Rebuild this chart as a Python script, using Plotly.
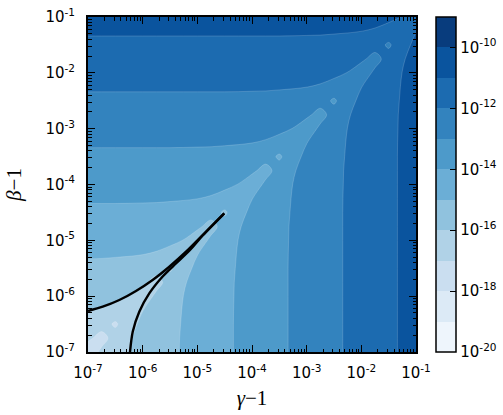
import plotly.graph_objects as go

# grid positions (gamma-1 along x, beta-1 along y), quarter-decade spacing
gamma_grid = [1.000e-7, 1.778e-7, 3.162e-7, 5.623e-7, 1.000e-6, 1.778e-6, 3.162e-6, 5.623e-6,
              1.000e-5, 1.778e-5, 3.162e-5, 5.623e-5, 1.000e-4, 1.778e-4, 3.162e-4, 5.623e-4,
              1.000e-3, 1.778e-3, 3.162e-3, 5.623e-3, 1.000e-2, 1.778e-2, 3.162e-2, 5.623e-2,
              1.000e-1]
beta_grid = [1.000e-7, 1.778e-7, 3.162e-7, 5.623e-7, 1.000e-6, 1.778e-6, 3.162e-6, 5.623e-6,
             1.000e-5, 1.778e-5, 3.162e-5, 5.623e-5, 1.000e-4, 1.778e-4, 3.162e-4, 5.623e-4,
             1.000e-3, 1.778e-3, 3.162e-3, 5.623e-3, 1.000e-2, 1.778e-2, 3.162e-2, 5.623e-2,
             1.000e-1]

# log10 of the plotted quantity (rows: beta, cols: gamma)
log_z = [
    [-17.66, -16.77, -16.32, -15.99, -15.71, -15.44, -15.17, -14.92, -14.66, -14.41, -14.16, -13.91, -13.66, -13.41, -13.16, -12.91, -12.66, -12.41, -12.16, -11.91, -11.66, -11.41, -11.16, -10.91, -10.66],
    [-16.77, -17.41, -16.52, -16.07, -15.74, -15.46, -15.19, -14.92, -14.67, -14.41, -14.16, -13.91, -13.66, -13.41, -13.16, -12.91, -12.66, -12.41, -12.16, -11.91, -11.66, -11.41, -11.16, -10.91, -10.66],
    [-16.32, -16.52, -17.16, -16.27, -15.82, -15.49, -15.21, -14.94, -14.67, -14.42, -14.16, -13.91, -13.66, -13.41, -13.16, -12.91, -12.66, -12.41, -12.16, -11.91, -11.66, -11.41, -11.16, -10.91, -10.66],
    [-15.99, -16.07, -16.27, -16.91, -16.02, -15.57, -15.24, -14.96, -14.69, -14.42, -14.17, -13.91, -13.66, -13.41, -13.16, -12.91, -12.66, -12.41, -12.16, -11.91, -11.66, -11.41, -11.16, -10.91, -10.66],
    [-15.71, -15.74, -15.82, -16.02, -16.66, -15.77, -15.32, -14.99, -14.71, -14.44, -14.17, -13.92, -13.66, -13.41, -13.16, -12.91, -12.66, -12.41, -12.16, -11.91, -11.66, -11.41, -11.16, -10.91, -10.66],
    [-15.44, -15.46, -15.49, -15.57, -15.77, -16.41, -15.52, -15.07, -14.74, -14.46, -14.19, -13.92, -13.67, -13.41, -13.16, -12.91, -12.66, -12.41, -12.16, -11.91, -11.66, -11.41, -11.16, -10.91, -10.66],
    [-15.17, -15.19, -15.21, -15.24, -15.32, -15.52, -16.16, -15.27, -14.82, -14.49, -14.21, -13.94, -13.67, -13.42, -13.16, -12.91, -12.66, -12.41, -12.16, -11.91, -11.66, -11.41, -11.16, -10.91, -10.66],
    [-14.92, -14.92, -14.94, -14.96, -14.99, -15.07, -15.27, -15.91, -15.02, -14.57, -14.24, -13.96, -13.69, -13.42, -13.17, -12.91, -12.66, -12.41, -12.16, -11.91, -11.66, -11.41, -11.16, -10.91, -10.66],
    [-14.66, -14.67, -14.67, -14.69, -14.71, -14.74, -14.82, -15.02, -15.66, -14.77, -14.32, -13.99, -13.71, -13.44, -13.17, -12.92, -12.66, -12.41, -12.16, -11.91, -11.66, -11.41, -11.16, -10.91, -10.66],
    [-14.41, -14.41, -14.42, -14.42, -14.44, -14.46, -14.49, -14.57, -14.77, -15.41, -14.52, -14.07, -13.74, -13.46, -13.19, -12.92, -12.67, -12.41, -12.16, -11.91, -11.66, -11.41, -11.16, -10.91, -10.66],
    [-14.16, -14.16, -14.16, -14.17, -14.17, -14.19, -14.21, -14.24, -14.32, -14.52, -15.16, -14.27, -13.82, -13.49, -13.21, -12.94, -12.67, -12.42, -12.16, -11.91, -11.66, -11.41, -11.16, -10.91, -10.66],
    [-13.91, -13.91, -13.91, -13.91, -13.92, -13.92, -13.94, -13.96, -13.99, -14.07, -14.27, -14.91, -14.02, -13.57, -13.24, -12.96, -12.69, -12.42, -12.17, -11.91, -11.66, -11.41, -11.16, -10.91, -10.66],
    [-13.66, -13.66, -13.66, -13.66, -13.66, -13.67, -13.67, -13.69, -13.71, -13.74, -13.82, -14.02, -14.66, -13.77, -13.32, -12.99, -12.71, -12.44, -12.17, -11.92, -11.66, -11.41, -11.16, -10.91, -10.66],
    [-13.41, -13.41, -13.41, -13.41, -13.41, -13.41, -13.42, -13.42, -13.44, -13.46, -13.49, -13.57, -13.77, -14.41, -13.52, -13.07, -12.74, -12.46, -12.19, -11.92, -11.67, -11.41, -11.16, -10.91, -10.66],
    [-13.16, -13.16, -13.16, -13.16, -13.16, -13.16, -13.16, -13.17, -13.17, -13.19, -13.21, -13.24, -13.32, -13.52, -14.16, -13.27, -12.82, -12.49, -12.21, -11.94, -11.67, -11.42, -11.16, -10.91, -10.66],
    [-12.91, -12.91, -12.91, -12.91, -12.91, -12.91, -12.91, -12.91, -12.92, -12.92, -12.94, -12.96, -12.99, -13.07, -13.27, -13.91, -13.02, -12.57, -12.24, -11.96, -11.69, -11.42, -11.17, -10.91, -10.66],
    [-12.66, -12.66, -12.66, -12.66, -12.66, -12.66, -12.66, -12.66, -12.66, -12.67, -12.67, -12.69, -12.71, -12.74, -12.82, -13.02, -13.66, -12.77, -12.32, -11.99, -11.71, -11.44, -11.17, -10.92, -10.66],
    [-12.41, -12.41, -12.41, -12.41, -12.41, -12.41, -12.41, -12.41, -12.41, -12.41, -12.42, -12.42, -12.44, -12.46, -12.49, -12.57, -12.77, -13.41, -12.52, -12.07, -11.74, -11.46, -11.19, -10.92, -10.67],
    [-12.16, -12.16, -12.16, -12.16, -12.16, -12.16, -12.16, -12.16, -12.16, -12.16, -12.16, -12.17, -12.17, -12.19, -12.21, -12.24, -12.32, -12.52, -13.16, -12.27, -11.82, -11.49, -11.21, -10.94, -10.67],
    [-11.91, -11.91, -11.91, -11.91, -11.91, -11.91, -11.91, -11.91, -11.91, -11.91, -11.91, -11.91, -11.92, -11.92, -11.94, -11.96, -11.99, -12.07, -12.27, -12.91, -12.02, -11.57, -11.24, -10.96, -10.69],
    [-11.66, -11.66, -11.66, -11.66, -11.66, -11.66, -11.66, -11.66, -11.66, -11.66, -11.66, -11.66, -11.66, -11.67, -11.67, -11.69, -11.71, -11.74, -11.82, -12.02, -12.66, -11.77, -11.32, -10.99, -10.71],
    [-11.41, -11.41, -11.41, -11.41, -11.41, -11.41, -11.41, -11.41, -11.41, -11.41, -11.41, -11.41, -11.41, -11.41, -11.42, -11.42, -11.44, -11.46, -11.49, -11.57, -11.77, -12.41, -11.52, -11.07, -10.74],
    [-11.16, -11.16, -11.16, -11.16, -11.16, -11.16, -11.16, -11.16, -11.16, -11.16, -11.16, -11.16, -11.16, -11.16, -11.16, -11.17, -11.17, -11.19, -11.21, -11.24, -11.32, -11.52, -12.16, -11.27, -10.82],
    [-10.91, -10.91, -10.91, -10.91, -10.91, -10.91, -10.91, -10.91, -10.91, -10.91, -10.91, -10.91, -10.91, -10.91, -10.91, -10.91, -10.92, -10.92, -10.94, -10.96, -10.99, -11.07, -11.27, -11.91, -11.02],
    [-10.66, -10.66, -10.66, -10.66, -10.66, -10.66, -10.66, -10.66, -10.66, -10.66, -10.66, -10.66, -10.66, -10.66, -10.66, -10.66, -10.66, -10.67, -10.67, -10.69, -10.71, -10.74, -10.82, -11.02, -11.66],
]

# contour levels (log10) and band colours (bottom band first)
level_start, level_end, level_step = -20, -9, 1
band_colors = ["#eef5fc", "#dceaf6", "#cadef0", "#b0d2e7", "#90c2de", "#6baed6",
               "#4d9aca", "#3383be", "#1c6bb0", "#0a549e", "#083c7d"]

# two black curves
curve_a_x = [1.0e-7, 1.86e-7, 3.74e-7, 7.55e-7, 1.52e-6, 3.07e-6, 6.21e-6, 1.25e-5, 3.11e-5]
curve_a_y = [5.42e-7, 6.47e-7, 8.53e-7, 1.24e-6, 1.95e-6, 3.37e-6, 6.25e-6, 1.24e-5, 3.05e-5]
curve_b_x = [5.86e-7, 6.58e-7, 8.67e-7, 1.32e-6, 2.32e-6, 4.07e-6, 7.35e-6, 1.25e-5, 3.11e-5]
curve_b_y = [1.0e-7, 2.31e-7, 5.26e-7, 1.12e-6, 2.25e-6, 3.85e-6, 6.71e-6, 1.22e-5, 3.05e-5]

x_ticks = [1e-7, 1e-6, 1e-5, 1e-4, 1e-3, 1e-2, 1e-1]
x_labels = ["10<sup>-7</sup>", "10<sup>-6</sup>", "10<sup>-5</sup>", "10<sup>-4</sup>",
            "10<sup>-3</sup>", "10<sup>-2</sup>", "10<sup>-1</sup>"]
y_ticks = x_ticks
y_labels = x_labels
cbar_ticks = [-20, -18, -16, -14, -12, -10]
cbar_labels = ["10<sup>-20</sup>", "10<sup>-18</sup>", "10<sup>-16</sup>",
               "10<sup>-14</sup>", "10<sup>-12</sup>", "10<sup>-10</sup>"]

n_bands = len(band_colors)

# contour fill colour map: plotly evaluates each band at its midpoint,
# domain spans start-step/2 .. end+step/2 (n_bands + 1 slots)
fill_scale = [[0.0, band_colors[0]]]
for k, c in enumerate(band_colors):
    fill_scale.append([(k + 1) / (n_bands + 1), c])
fill_scale.append([1.0, band_colors[-1]])

# stepped scale for the colour bar
bar_scale = []
for k, c in enumerate(band_colors):
    bar_scale.append([k / n_bands, c])
    bar_scale.append([(k + 1) / n_bands, c])

fig = go.Figure()
fig.add_trace(go.Contour(
    x=gamma_grid, y=beta_grid, z=log_z,
    colorscale=fill_scale, showscale=False,
    contours=dict(start=level_start, end=level_end, size=level_step,
                  coloring="fill", showlines=True),
    line=dict(width=0.6, color="rgba(255,255,255,0.28)", smoothing=1.0),
    hoverinfo="skip",
))

for cx, cy in [(curve_a_x, curve_a_y), (curve_b_x, curve_b_y)]:
    fig.add_trace(go.Scatter(x=cx, y=cy, mode="lines", showlegend=False,
                             line=dict(color="black", width=2.4, shape="spline", smoothing=0.8),
                             hoverinfo="skip"))

fig.add_trace(go.Scatter(
    x=[None], y=[None], mode="markers", showlegend=False, hoverinfo="skip",
    marker=dict(color=[level_start], cmin=level_start, cmax=level_end,
                colorscale=bar_scale, showscale=True,
                colorbar=dict(x=1.061, xanchor="left", xpad=0, y=0.5, yanchor="middle",
                              len=1.0, lenmode="fraction", ypad=0, thickness=20,
                              outlinewidth=1.5, outlinecolor="black",
                              tickvals=cbar_ticks, ticktext=cbar_labels,
                              ticks="inside", ticklen=6, tickwidth=1.2, tickcolor="black",
                              tickfont=dict(family="DejaVu Sans", size=15, color="black"))),
))

axis_common = dict(
    type="log", range=[-7, -1], ticks="inside", ticklen=7, tickwidth=1.3, tickcolor="black",
    mirror="allticks", showline=True, linewidth=2, linecolor="black",
    showgrid=False, zeroline=False, automargin=False,
    tickfont=dict(family="DejaVu Sans", size=15, color="black"),
    minor=dict(ticks="inside", ticklen=3.5, tickwidth=1, tickcolor="black",
               dtick="D1", showgrid=False),
)

fig.update_layout(
    width=503, height=415,
    margin=dict(l=88, r=87, t=17, b=63, autoexpand=False),
    paper_bgcolor="white", plot_bgcolor="white",
    showlegend=False,
    xaxis=dict(axis_common, tickvals=x_ticks, ticktext=x_labels, ticklabelstandoff=6,
               title=dict(text="<i>γ</i>−1", standoff=9,
                          font=dict(family="Liberation Serif", size=21, color="black"))),
    yaxis=dict(axis_common, tickvals=y_ticks, ticktext=y_labels, ticklabelstandoff=8,
               title=dict(text="<i>β</i>−1", standoff=18,
                          font=dict(family="Liberation Serif", size=21, color="black"))),
)

fig.write_html(
    "out.html",
    config={"displayModeBar": False},
    post_script="document.body.style.margin='0';document.body.style.padding='0';"
                "document.body.style.overflow='hidden';",
)
